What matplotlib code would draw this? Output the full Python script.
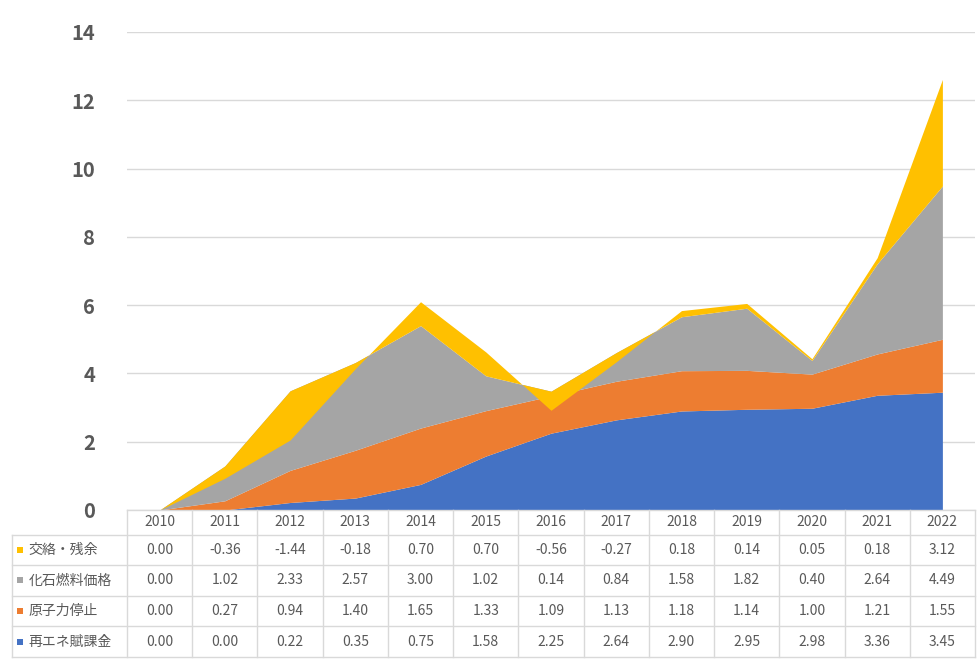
import matplotlib.pyplot as plt
import numpy as np

plt.rcParams['font.family'] = ['Noto Sans CJK JP', 'DejaVu Sans']

years = ['2010', '2011', '2012', '2013', '2014', '2015', '2016',
         '2017', '2018', '2019', '2020', '2021', '2022']
renew = [0.00, 0.00, 0.22, 0.35, 0.75, 1.58, 2.25, 2.64, 2.90, 2.95, 2.98, 3.36, 3.45]
nuclear = [0.00, 0.27, 0.94, 1.40, 1.65, 1.33, 1.09, 1.13, 1.18, 1.14, 1.00, 1.21, 1.55]
fossil = [0.00, 1.02, 2.33, 2.57, 3.00, 1.02, 0.14, 0.84, 1.58, 1.82, 0.40, 2.64, 4.49]
residual = [0.00, -0.36, -1.44, -0.18, 0.70, 0.70, -0.56, -0.27, 0.18, 0.14, 0.05, 0.18, 3.12]

names = ['再エネ賦課金', '原子力停止', '化石燃料価格', '交絡・残余']
colors = ['#4472C4', '#ED7D31', '#A5A5A5', '#FFC000']
series = [renew, nuclear, fossil, residual]

W, H = 977, 664
fig = plt.figure(figsize=(W / 100, H / 100), dpi=100)

# main area chart
ax = fig.add_axes([127 / W, 1 - 510 / H, 848 / W, 478 / H])
x = np.arange(len(years))
base = np.zeros(len(years))
for vals, c in zip(series, colors):
    top = base + np.array(vals)
    ax.fill_between(x, base, top, color=c, lw=0, zorder=2)
    base = top

ax.set_xlim(-0.5, len(years) - 0.5)
ax.set_ylim(0, 14)
ax.set_yticks(range(0, 15, 2))
ax.yaxis.grid(True, color='#d9d9d9', lw=1, zorder=0)
ax.tick_params(axis='y', length=0, pad=23, labelsize=14.5, labelcolor='#595959')
for t in ax.get_yticklabels():
    t.set_fontweight('bold')
ax.set_xticks([])
for s in ax.spines.values():
    s.set_visible(False)

# data table below
col_w = 848 / len(years)
lab_w = 115 / col_w
tax = fig.add_axes([12 / W, 1 - 657 / H, 963 / W, 147 / H])
tax.set_xlim(-0.5 - lab_w, len(years) - 0.5)
tax.set_ylim(4.8, 0)
tax.axis('off')

row_y = [0, 0.8, 1.8, 2.8, 3.8, 4.8]
line_c = '#d9d9d9'
for y in row_y:
    x0 = -0.5 if y == 0 else -0.5 - lab_w
    tax.plot([x0, len(years) - 0.5], [y, y], color=line_c, lw=1, clip_on=False)
for k in range(len(years) + 1):
    tax.plot([k - 0.5, k - 0.5], [0, row_y[-1]], color=line_c, lw=1, clip_on=False)
tax.plot([-0.5 - lab_w] * 2, [row_y[1], row_y[-1]], color=line_c, lw=1, clip_on=False)

txt_c = '#595959'
for i, yr in enumerate(years):
    tax.text(i, row_y[0] + 0.4, yr, ha='center', va='center',
             fontsize=10, color=txt_c)

for r, idx in enumerate([3, 2, 1, 0]):
    yc = (row_y[r + 1] + row_y[r + 2]) / 2
    tax.scatter([-0.5 - lab_w + 0.13], [yc], marker='s', s=24,
                color=colors[idx], lw=0)
    tax.text(-0.5 - lab_w + 0.25, yc, names[idx], ha='left', va='center',
             fontsize=10, color=txt_c)
    for i, v in enumerate(series[idx]):
        tax.text(i, yc, f'{v:.2f}', ha='center', va='center',
                 fontsize=10, color=txt_c)

fig.savefig('out.png', dpi=100)
